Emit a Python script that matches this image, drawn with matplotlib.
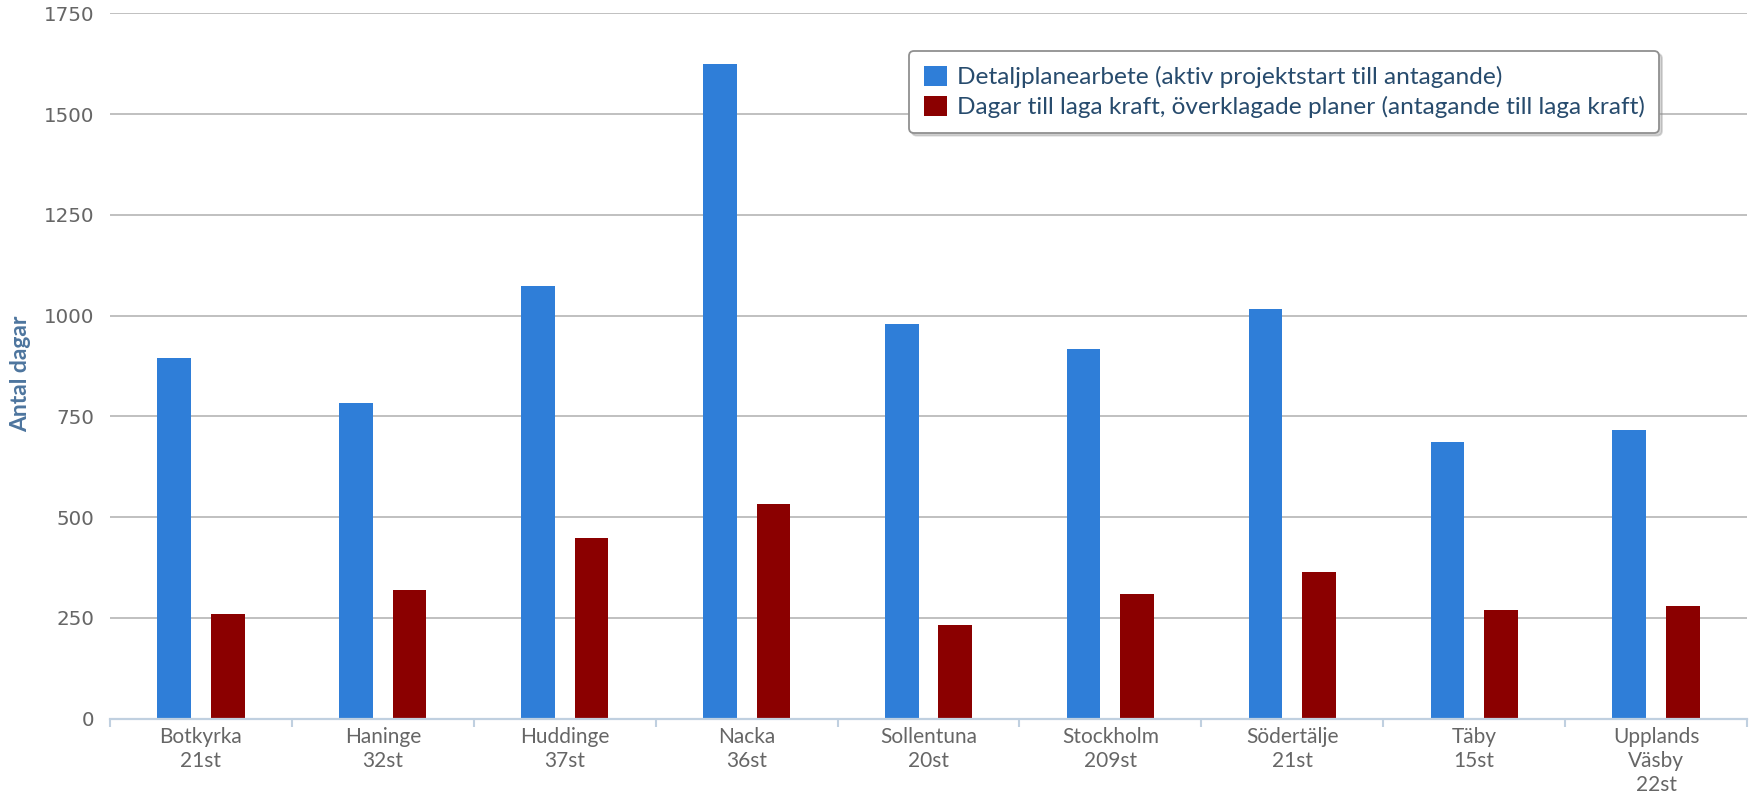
import matplotlib
matplotlib.use('Agg')
import matplotlib.pyplot as plt
import numpy as np

# ---- data ----
categories = ['Botkyrka\n21st', 'Haninge\n32st', 'Huddinge\n37st', 'Nacka\n36st',
              'Sollentuna\n20st', 'Stockholm\n209st', 'Södertälje\n21st', 'Täby\n15st',
              'Upplands\nVäsby\n22st']
detaljplan = [894, 784, 1073, 1625, 979, 917, 1015, 687, 717]
laga_kraft = [260, 318, 447, 533, 233, 308, 363, 269, 278]
series_names = ['Detaljplanearbete (aktiv projektstart till antagande)',
                'Dagar till laga kraft, överklagade planer (antagande till laga kraft)']
yticks = [0, 250, 500, 750, 1000, 1250, 1500, 1750]
ylabel = 'Antal dagar'

# ---- style ----
W, H = 1754, 796
fig = plt.figure(figsize=(W / 100, H / 100), dpi=100)
fig.subplots_adjust(left=110 / W, right=1747 / W, bottom=1 - 718.5 / H, top=1 - 13.3 / H)
ax = fig.add_subplot(111)

x = np.arange(len(categories))
bw = 0.185
off = 0.147
ax.bar(x - off, detaljplan, width=bw, color='#2f7ed8', label=series_names[0], zorder=3)
ax.bar(x + off, laga_kraft, width=bw, color='#8b0000', label=series_names[1], zorder=3)

ax.set_xlim(-0.5, len(categories) - 0.5)
ax.set_ylim(0, 1750)
ax.set_yticks(yticks)
ax.set_yticklabels([str(v) for v in yticks], color='#666666', fontsize=14.3,
                   family='DejaVu Sans')
ax.tick_params(axis='y', length=0, pad=11)
ax.yaxis.grid(True, color='#c0c0c0', linewidth=1.4, zorder=0)
ax.set_axisbelow(True)

ax.set_xticks(x)
ax.set_xticklabels(categories, color='#666666', fontsize=15, family='Lato',
                   linespacing=1.27)
ax.tick_params(axis='x', which='major', length=0, pad=6)
ax.set_xticks(np.arange(-0.5, len(categories)), minor=True)
ax.tick_params(axis='x', which='minor', length=6, width=1.5, color='#c0d0e0', direction='out')

for s in ['top', 'right', 'left']:
    ax.spines[s].set_visible(False)
ax.spines['bottom'].set_color('#c0d0e0')
ax.spines['bottom'].set_linewidth(1.6)
ax.spines['bottom'].set_zorder(4)

fig.text(21 / W, 1 - 374 / H, ylabel, rotation=90, ha='center', va='center',
         color='#4d759e', fontsize=16.5, fontweight='bold', family='Lato')

leg = ax.legend(loc='upper left', bbox_to_anchor=(909 / W, 1 - 51 / H),
                bbox_transform=fig.transFigure, borderaxespad=0,
                prop={'family': 'Lato', 'size': 17.6},
                frameon=True, fancybox=True, framealpha=1,
                edgecolor='#909090', labelcolor='#274b6d',
                handlelength=0.95, handleheight=0.9, handletextpad=0.4,
                labelspacing=0.3, borderpad=0.6,
                shadow={'color': '0.55', 'alpha': 0.35})
leg.get_frame().set_linewidth(1.3)

fig.savefig('out.png', dpi=100, facecolor='white')
